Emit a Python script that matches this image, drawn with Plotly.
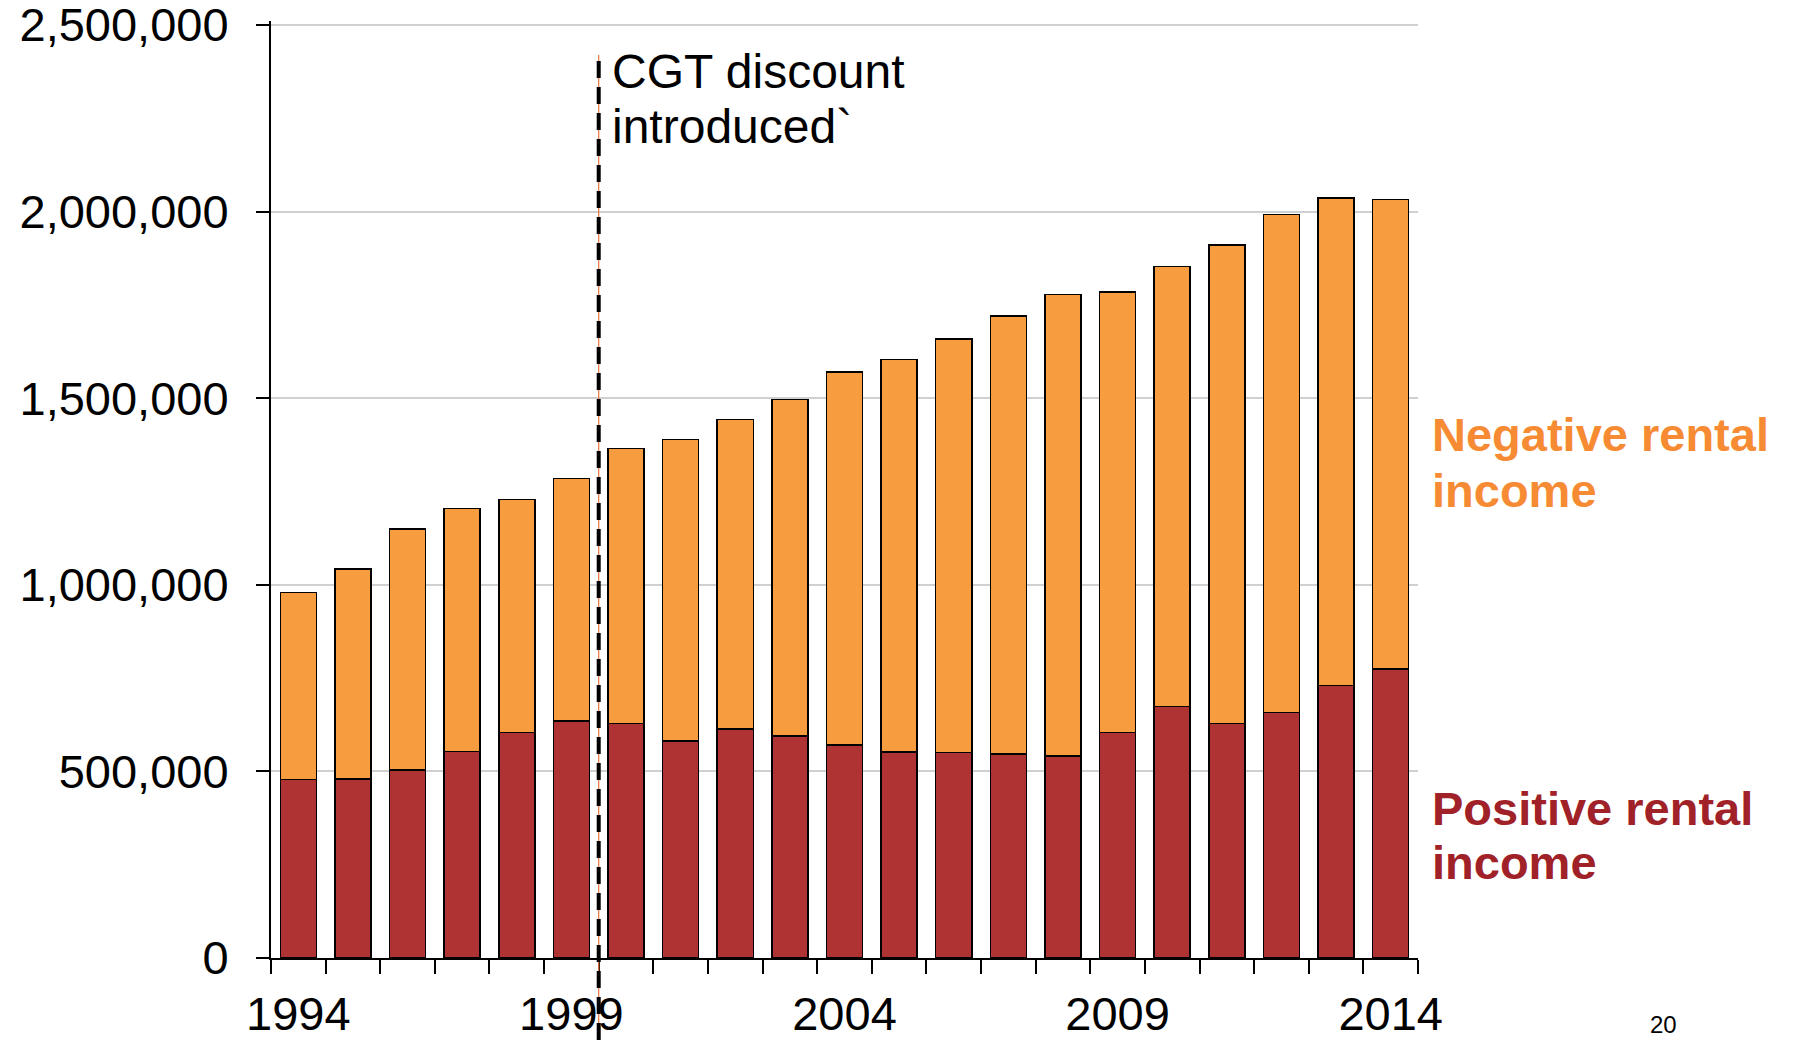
import plotly.graph_objects as go

years = list(range(1994, 2015))
positive_income = [478000, 479000, 504000, 553000, 604000, 635000, 628000, 581000, 613000, 595000,
                   571000, 552000, 550000, 547000, 541000, 604000, 674000, 628000, 658000, 730000, 774000]
negative_income = [502000, 563000, 645000, 652000, 624000, 650000, 737000, 809000, 830000, 902000,
                   999000, 1052000, 1109000, 1173000, 1237000, 1181000, 1179000, 1283000, 1334000, 1307000, 1259000]
label_years = [1994, 1999, 2004, 2009, 2014]
cgt_year = 1999.5
y_ticks = [0, 500000, 1000000, 1500000, 2000000, 2500000]

W, H = 1793, 1040
L, R, T, B = 271, 1418, 21, 958
Y_TOP_PIX = 25  # pixel row of the 2,500,000 gridline
FONT = "Liberation Sans, Arial, sans-serif"

def py(pix):
    return (B - pix) / (B - T)

def px(pix):
    return (pix - L) / (R - L)

y_max = y_ticks[-1] * (B - T) / (B - Y_TOP_PIX)

fig = go.Figure()
fig.add_trace(go.Bar(x=years, y=positive_income, name="Positive rental income",
                     marker=dict(color="#B03333", line=dict(color="black", width=1.5))))
fig.add_trace(go.Bar(x=years, y=negative_income, name="Negative rental income",
                     marker=dict(color="#F79D40", line=dict(color="black", width=1.5))))

fig.update_layout(
    width=W, height=H,
    margin=dict(l=L, r=W - R, t=T, b=H - B, autoexpand=False),
    barmode="stack", bargap=0.34,
    plot_bgcolor="white", paper_bgcolor="white",
    showlegend=False,
    font=dict(family=FONT, color="black"),
)
fig.update_xaxes(
    range=[1993.5, 2014.5], automargin=False,
    tickmode="array", tickvals=label_years, ticktext=[str(y) for y in label_years],
    ticks="", showgrid=False, zeroline=False,
    showline=True, linecolor="black", linewidth=2,
    tickfont=dict(size=47, family=FONT, color="black"),
    ticklabelstandoff=14, ticklabeloverflow="allow",
    minor=dict(tickmode="array", tickvals=[y - 0.5 for y in years] + [years[-1] + 0.5],
               ticks="outside", ticklen=14, tickwidth=1.5, tickcolor="black", showgrid=False),
)
fig.update_yaxes(
    range=[0, y_max], automargin=False,
    tickmode="array", tickvals=y_ticks, tickformat=",d",
    ticks="outside", ticklen=13, tickwidth=2, tickcolor="black",
    showgrid=True, gridcolor="#D0D0D0", gridwidth=2, zeroline=False,
    showline=True, linecolor="black", linewidth=2,
    tickfont=dict(size=47, family=FONT, color="black"),
    ticklabelstandoff=18, ticklabeloverflow="allow",
)

# CGT discount marker line (thin orange line just beside the black dashes)
fig.add_shape(type="line", xref="x", yref="paper", x0=cgt_year, x1=cgt_year,
              y0=py(H), y1=py(55), line=dict(color="#E8743B", width=1.2), layer="above",
              xsizemode="pixel", xanchor=cgt_year) if False else None
fig.add_shape(type="line", xref="x", yref="paper", x0=cgt_year, x1=cgt_year,
              y0=py(H), y1=py(55), line=dict(color="#E8743B", width=1.2), layer="above")
fig.add_shape(type="line", xref="x", yref="paper", x0=cgt_year, x1=cgt_year,
              y0=py(H), y1=py(55), line=dict(color="black", width=4, dash="17px,9px"), layer="above")

def text(x, ypix, s, size, color, bold=False, xref="paper", xanchor="left", xshift=0):
    fig.add_annotation(x=x, y=py(ypix), xref=xref, yref="paper", text=s, showarrow=False,
                       xanchor=xanchor, yanchor="middle", xshift=xshift,
                       font=dict(size=size, family=FONT, color=color,
                                 weight="bold" if bold else "normal"))

text(cgt_year, 71.5, "CGT discount", 48, "black", xref="x", xshift=11)
text(cgt_year, 126.5, "introduced`", 48, "black", xref="x", xshift=11)
text(px(1430), 434, "Negative rental", 47, "#F68B33", bold=True)
text(px(1430), 490, "income", 47, "#F68B33", bold=True)
text(px(1430), 808, "Positive rental", 47, "#A02228", bold=True)
text(px(1430), 862.5, "income", 47, "#A02228", bold=True)
text(px(1663), 1024, "20", 24, "black", xanchor="center")

fig.write_html("out.html", config={"displayModeBar": False},
               post_script="document.body.style.margin='0';document.body.style.overflow='hidden';")
